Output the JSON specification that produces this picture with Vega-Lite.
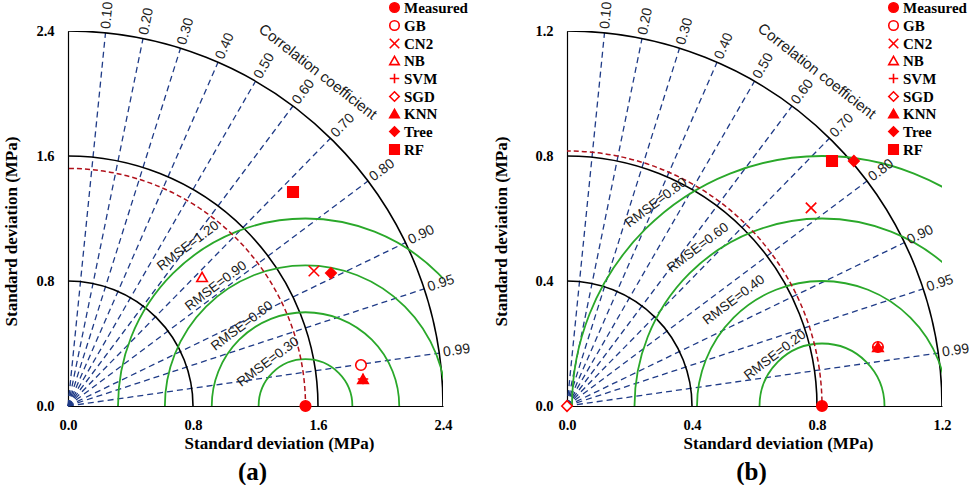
{
  "$schema": "https://vega.github.io/schema/vega-lite/v6.json",
  "padding": {"left": 2, "top": 0, "right": 0, "bottom": 0},
  "config": {"view": {"stroke": null}},
  "datasets": {
    "a_rays": [
      {"x": 0, "y": 0, "xe": 0.24, "ye": 2.388},
      {"x": 0, "y": 0, "xe": 0.48, "ye": 2.3515},
      {"x": 0, "y": 0, "xe": 0.72, "ye": 2.2895},
      {"x": 0, "y": 0, "xe": 0.96, "ye": 2.1996},
      {"x": 0, "y": 0, "xe": 1.2, "ye": 2.0785},
      {"x": 0, "y": 0, "xe": 1.44, "ye": 1.92},
      {"x": 0, "y": 0, "xe": 1.68, "ye": 1.7139},
      {"x": 0, "y": 0, "xe": 1.92, "ye": 1.44},
      {"x": 0, "y": 0, "xe": 2.16, "ye": 1.0461},
      {"x": 0, "y": 0, "xe": 2.28, "ye": 0.7494},
      {"x": 0, "y": 0, "xe": 2.376, "ye": 0.3386}
    ],
    "a_clab": [
      {"x": 0.24, "y": 2.388, "label": "0.10", "angle": 275.74},
      {"x": 0.48, "y": 2.3515, "label": "0.20", "angle": 281.54},
      {"x": 0.72, "y": 2.2895, "label": "0.30", "angle": 287.46},
      {"x": 0.96, "y": 2.1996, "label": "0.40", "angle": 293.58},
      {"x": 1.2, "y": 2.0785, "label": "0.50", "angle": 300},
      {"x": 1.44, "y": 1.92, "label": "0.60", "angle": 306.87},
      {"x": 1.68, "y": 1.7139, "label": "0.70", "angle": 314.43},
      {"x": 1.92, "y": 1.44, "label": "0.80", "angle": 323.13},
      {"x": 2.16, "y": 1.0461, "label": "0.90", "angle": 334.16},
      {"x": 2.28, "y": 0.7494, "label": "0.95", "angle": 341.81},
      {"x": 2.376, "y": 0.3386, "label": "0.99", "angle": 351.89}
    ],
    "a_std": [
      {"x": 0, "y": 0, "r": 0.8},
      {"x": 0, "y": 0, "r": 1.6},
      {"x": 0, "y": 0, "r": 2.4}
    ],
    "a_ref": [{"x": 0, "y": 0, "r": 1.52}],
    "a_rmse": [
      {"x": 1.52, "y": 0, "r": 0.3},
      {"x": 1.52, "y": 0, "r": 0.6},
      {"x": 1.52, "y": 0, "r": 0.9},
      {"x": 1.52, "y": 0, "r": 1.2}
    ],
    "a_rlab": [
      {"x": 0.768, "y": 1.024, "label": "RMSE=1.20"},
      {"x": 0.947, "y": 0.768, "label": "RMSE=0.90"},
      {"x": 1.114, "y": 0.512, "label": "RMSE=0.60"},
      {"x": 1.28, "y": 0.282, "label": "RMSE=0.30"}
    ],
    "a_title": [{"x": 1.6, "y": 2.14, "label": "Correlation coefficient"}],
    "a_pts": [
      {"model": "Measured", "x": 1.52, "y": 0},
      {"model": "GB", "x": 1.875, "y": 0.262},
      {"model": "CN2", "x": 1.574, "y": 0.864},
      {"model": "NB", "x": 0.858, "y": 0.826},
      {"model": "SVM", "x": 1.888, "y": 0.173},
      {"model": "KNN", "x": 1.888, "y": 0.173},
      {"model": "Tree", "x": 1.683, "y": 0.851},
      {"model": "RF", "x": 1.44, "y": 1.37}
    ],
    "b_rays": [
      {"x": 0, "y": 0, "xe": 0.12, "ye": 1.194},
      {"x": 0, "y": 0, "xe": 0.24, "ye": 1.1758},
      {"x": 0, "y": 0, "xe": 0.36, "ye": 1.1447},
      {"x": 0, "y": 0, "xe": 0.48, "ye": 1.0998},
      {"x": 0, "y": 0, "xe": 0.6, "ye": 1.0392},
      {"x": 0, "y": 0, "xe": 0.72, "ye": 0.96},
      {"x": 0, "y": 0, "xe": 0.84, "ye": 0.857},
      {"x": 0, "y": 0, "xe": 0.96, "ye": 0.72},
      {"x": 0, "y": 0, "xe": 1.08, "ye": 0.5231},
      {"x": 0, "y": 0, "xe": 1.14, "ye": 0.3747},
      {"x": 0, "y": 0, "xe": 1.188, "ye": 0.1693}
    ],
    "b_clab": [
      {"x": 0.12, "y": 1.194, "label": "0.10", "angle": 275.74},
      {"x": 0.24, "y": 1.1758, "label": "0.20", "angle": 281.54},
      {"x": 0.36, "y": 1.1447, "label": "0.30", "angle": 287.46},
      {"x": 0.48, "y": 1.0998, "label": "0.40", "angle": 293.58},
      {"x": 0.6, "y": 1.0392, "label": "0.50", "angle": 300},
      {"x": 0.72, "y": 0.96, "label": "0.60", "angle": 306.87},
      {"x": 0.84, "y": 0.857, "label": "0.70", "angle": 314.43},
      {"x": 0.96, "y": 0.72, "label": "0.80", "angle": 323.13},
      {"x": 1.08, "y": 0.5231, "label": "0.90", "angle": 334.16},
      {"x": 1.14, "y": 0.3747, "label": "0.95", "angle": 341.81},
      {"x": 1.188, "y": 0.1693, "label": "0.99", "angle": 351.89}
    ],
    "b_std": [
      {"x": 0, "y": 0, "r": 0.4},
      {"x": 0, "y": 0, "r": 0.8},
      {"x": 0, "y": 0, "r": 1.2}
    ],
    "b_ref": [{"x": 0, "y": 0, "r": 0.816}],
    "b_rmse": [
      {"x": 0.816, "y": 0, "r": 0.2},
      {"x": 0.816, "y": 0, "r": 0.4},
      {"x": 0.816, "y": 0, "r": 0.6},
      {"x": 0.816, "y": 0, "r": 0.8}
    ],
    "b_rlab": [
      {"x": 0.285, "y": 0.65, "label": "RMSE=0.80"},
      {"x": 0.419, "y": 0.506, "label": "RMSE=0.60"},
      {"x": 0.534, "y": 0.339, "label": "RMSE=0.40"},
      {"x": 0.666, "y": 0.163, "label": "RMSE=0.20"}
    ],
    "b_title": [{"x": 0.8, "y": 1.072, "label": "Correlation coefficient"}],
    "b_pts": [
      {"model": "Measured", "x": 0.816, "y": 0},
      {"model": "GB", "x": 0.995, "y": 0.189},
      {"model": "CN2", "x": 0.781, "y": 0.634},
      {"model": "SVM", "x": 0.995, "y": 0.189},
      {"model": "SGD", "x": 0, "y": 0},
      {"model": "KNN", "x": 0.995, "y": 0.189},
      {"model": "Tree", "x": 0.918, "y": 0.784},
      {"model": "RF", "x": 0.848, "y": 0.784}
    ]
  },
  "spacing": 20,
  "resolve": {
    "scale": {"size": "independent", "shape": "independent", "fill": "independent", "stroke": "independent"},
    "legend": {"shape": "independent", "fill": "independent", "stroke": "independent"}
  },
  "hconcat": [
    {
      "width": 375,
      "height": 375,
      "title": {"text": "(a)", "orient": "bottom", "anchor": "middle", "frame": "group", "font": "Liberation Serif", "fontWeight": "bold", "fontSize": 25, "color": "black", "offset": 8, "dx": -3},
      "encoding": {
        "x": {"field": "x", "type": "quantitative", "scale": {"domain": [0, 2.4], "nice": false},
          "axis": {"title": "Standard deviation (MPa)", "values": [0, 0.8, 1.6, 2.4], "format": ".1f", "grid": false, "ticks": false, "labelFlush": false, "labelOverlap": false, "domainColor": "black", "domainWidth": 1.2, "labelFont": "Liberation Serif", "labelFontWeight": "bold", "labelFontSize": 14.5, "labelColor": "black", "labelPadding": 12, "titleFont": "Liberation Serif", "titleFontWeight": "bold", "titleFontSize": 17, "titleColor": "black", "titlePadding": 4, "titleX": 211}},
        "y": {"field": "y", "type": "quantitative", "scale": {"domain": [0, 2.4], "nice": false},
          "axis": {"title": "Standard deviation (MPa)", "values": [0, 0.8, 1.6, 2.4], "format": ".1f", "grid": false, "ticks": false, "labelFlush": false, "labelOverlap": false, "domainColor": "black", "domainWidth": 1.2, "labelFont": "Liberation Serif", "labelFontWeight": "bold", "labelFontSize": 14.5, "labelColor": "black", "labelPadding": 14, "titleFont": "Liberation Serif", "titleFontWeight": "bold", "titleFontSize": 17, "titleColor": "black", "titlePadding": 15, "titleY": 200}}
      },
      "layer": [
        {"data": {"name": "a_rays"}, "mark": {"type": "rule", "stroke": "#1f3b87", "strokeDash": [6, 4], "strokeWidth": 1.3},
          "encoding": {"x2": {"field": "xe"}, "y2": {"field": "ye"}}},
        {"data": {"name": "a_std"}, "mark": {"type": "point", "shape": "circle", "filled": false, "stroke": "black", "strokeWidth": 1.6, "opacity": 1, "clip": true},
          "encoding": {"size": {"field": "r", "type": "quantitative", "scale": {"type": "pow", "exponent": 2, "domain": [0, 2.4], "range": [0, 562500]}, "legend": null}}},
        {"data": {"name": "a_rmse"}, "mark": {"type": "point", "shape": "circle", "filled": false, "stroke": "#2aa82a", "strokeWidth": 1.8, "opacity": 1, "clip": true},
          "encoding": {"size": {"field": "r", "type": "quantitative", "scale": {"type": "pow", "exponent": 2, "domain": [0, 2.4], "range": [0, 562500]}, "legend": null}}},
        {"data": {"name": "a_ref"}, "mark": {"type": "point", "shape": "circle", "filled": false, "stroke": "#b0101a", "strokeWidth": 1.5, "strokeDash": [5, 3], "opacity": 1, "clip": true},
          "encoding": {"size": {"field": "r", "type": "quantitative", "scale": {"type": "pow", "exponent": 2, "domain": [0, 2.4], "range": [0, 562500]}, "legend": null}}},
        {"data": {"name": "a_clab"}, "mark": {"type": "text", "align": "left", "baseline": "middle", "dx": 4, "font": "Liberation Sans", "fontSize": 14, "color": "#222"},
          "encoding": {"text": {"field": "label"}, "angle": {"field": "angle", "type": "quantitative", "scale": null}}},
        {"data": {"name": "a_rlab"}, "mark": {"type": "text", "align": "center", "baseline": "middle", "angle": 323, "font": "Liberation Sans", "fontSize": 13.5, "color": "#1a1a1a"},
          "encoding": {"text": {"field": "label"}}},
        {"data": {"name": "a_title"}, "mark": {"type": "text", "align": "center", "baseline": "middle", "angle": 38, "font": "Liberation Sans", "fontSize": 15, "color": "#1a1a1a"},
          "encoding": {"text": {"field": "label"}}},
        {"data": {"name": "a_pts"}, "mark": {"type": "point", "filled": true, "strokeWidth": 1.6, "size": 110, "opacity": 1},
          "encoding": {
            "shape": {"field": "model", "type": "nominal",
              "scale": {"domain": ["Measured", "GB", "CN2", "NB", "SVM", "SGD", "KNN", "Tree", "RF"], "range": ["circle", "circle", "M-1,-1L1,1M-1,1L1,-1", "triangle-up", "M-1,0L1,0M0,-1L0,1", "diamond", "triangle-up", "diamond", "square"]},
              "legend": {"title": null, "orient": "none", "legendX": 319, "legendY": -31, "padding": 0, "rowPadding": 1, "labelOffset": 2, "symbolSize": 90, "symbolStrokeWidth": 1.6, "labelFont": "Liberation Serif", "labelFontWeight": "bold", "labelFontSize": 15, "labelColor": "black"}},
            "fill": {"field": "model", "type": "nominal",
              "scale": {"domain": ["Measured", "GB", "CN2", "NB", "SVM", "SGD", "KNN", "Tree", "RF"], "range": ["red", "white", "white", "white", "white", "white", "red", "red", "red"]},
              "legend": {"title": null, "orient": "none", "legendX": 319, "legendY": -31, "padding": 0, "rowPadding": 1, "labelOffset": 2, "symbolSize": 90, "symbolStrokeWidth": 1.6, "labelFont": "Liberation Serif", "labelFontWeight": "bold", "labelFontSize": 15, "labelColor": "black"}},
            "stroke": {"field": "model", "type": "nominal",
              "scale": {"domain": ["Measured", "GB", "CN2", "NB", "SVM", "SGD", "KNN", "Tree", "RF"], "range": ["red", "red", "red", "red", "red", "red", "red", "red", "red"]},
              "legend": {"title": null, "orient": "none", "legendX": 319, "legendY": -31, "padding": 0, "rowPadding": 1, "labelOffset": 2, "symbolSize": 90, "symbolStrokeWidth": 1.6, "labelFont": "Liberation Serif", "labelFontWeight": "bold", "labelFontSize": 15, "labelColor": "black"}}
          }}
      ]
    },
    {
      "width": 375,
      "height": 375,
      "title": {"text": "(b)", "orient": "bottom", "anchor": "middle", "frame": "group", "font": "Liberation Serif", "fontWeight": "bold", "fontSize": 25, "color": "black", "offset": 8, "dx": -3},
      "encoding": {
        "x": {"field": "x", "type": "quantitative", "scale": {"domain": [0, 1.2], "nice": false},
          "axis": {"title": "Standard deviation (MPa)", "values": [0, 0.4, 0.8, 1.2], "format": ".1f", "grid": false, "ticks": false, "labelFlush": false, "labelOverlap": false, "domainColor": "black", "domainWidth": 1.2, "labelFont": "Liberation Serif", "labelFontWeight": "bold", "labelFontSize": 14.5, "labelColor": "black", "labelPadding": 12, "titleFont": "Liberation Serif", "titleFontWeight": "bold", "titleFontSize": 17, "titleColor": "black", "titlePadding": 4, "titleX": 211}},
        "y": {"field": "y", "type": "quantitative", "scale": {"domain": [0, 1.2], "nice": false},
          "axis": {"title": "Standard deviation (MPa)", "values": [0, 0.4, 0.8, 1.2], "format": ".1f", "grid": false, "ticks": false, "labelFlush": false, "labelOverlap": false, "domainColor": "black", "domainWidth": 1.2, "labelFont": "Liberation Serif", "labelFontWeight": "bold", "labelFontSize": 14.5, "labelColor": "black", "labelPadding": 14, "titleFont": "Liberation Serif", "titleFontWeight": "bold", "titleFontSize": 17, "titleColor": "black", "titlePadding": 24, "titleY": 200}}
      },
      "layer": [
        {"data": {"name": "b_rays"}, "mark": {"type": "rule", "stroke": "#1f3b87", "strokeDash": [6, 4], "strokeWidth": 1.3},
          "encoding": {"x2": {"field": "xe"}, "y2": {"field": "ye"}}},
        {"data": {"name": "b_std"}, "mark": {"type": "point", "shape": "circle", "filled": false, "stroke": "black", "strokeWidth": 1.6, "opacity": 1, "clip": true},
          "encoding": {"size": {"field": "r", "type": "quantitative", "scale": {"type": "pow", "exponent": 2, "domain": [0, 1.2], "range": [0, 562500]}, "legend": null}}},
        {"data": {"name": "b_rmse"}, "mark": {"type": "point", "shape": "circle", "filled": false, "stroke": "#2aa82a", "strokeWidth": 1.8, "opacity": 1, "clip": true},
          "encoding": {"size": {"field": "r", "type": "quantitative", "scale": {"type": "pow", "exponent": 2, "domain": [0, 1.2], "range": [0, 562500]}, "legend": null}}},
        {"data": {"name": "b_ref"}, "mark": {"type": "point", "shape": "circle", "filled": false, "stroke": "#b0101a", "strokeWidth": 1.5, "strokeDash": [5, 3], "opacity": 1, "clip": true},
          "encoding": {"size": {"field": "r", "type": "quantitative", "scale": {"type": "pow", "exponent": 2, "domain": [0, 1.2], "range": [0, 562500]}, "legend": null}}},
        {"data": {"name": "b_clab"}, "mark": {"type": "text", "align": "left", "baseline": "middle", "dx": 4, "font": "Liberation Sans", "fontSize": 14, "color": "#222"},
          "encoding": {"text": {"field": "label"}, "angle": {"field": "angle", "type": "quantitative", "scale": null}}},
        {"data": {"name": "b_rlab"}, "mark": {"type": "text", "align": "center", "baseline": "middle", "angle": 323, "font": "Liberation Sans", "fontSize": 13.5, "color": "#1a1a1a"},
          "encoding": {"text": {"field": "label"}}},
        {"data": {"name": "b_title"}, "mark": {"type": "text", "align": "center", "baseline": "middle", "angle": 38, "font": "Liberation Sans", "fontSize": 15, "color": "#1a1a1a"},
          "encoding": {"text": {"field": "label"}}},
        {"data": {"name": "b_pts"}, "mark": {"type": "point", "filled": true, "strokeWidth": 1.6, "size": 110, "opacity": 1},
          "encoding": {
            "shape": {"field": "model", "type": "nominal",
              "scale": {"domain": ["Measured", "GB", "CN2", "NB", "SVM", "SGD", "KNN", "Tree", "RF"], "range": ["circle", "circle", "M-1,-1L1,1M-1,1L1,-1", "triangle-up", "M-1,0L1,0M0,-1L0,1", "diamond", "triangle-up", "diamond", "square"]},
              "legend": {"title": null, "orient": "none", "legendX": 319, "legendY": -31, "padding": 0, "rowPadding": 1, "labelOffset": 2, "symbolSize": 90, "symbolStrokeWidth": 1.6, "labelFont": "Liberation Serif", "labelFontWeight": "bold", "labelFontSize": 15, "labelColor": "black"}},
            "fill": {"field": "model", "type": "nominal",
              "scale": {"domain": ["Measured", "GB", "CN2", "NB", "SVM", "SGD", "KNN", "Tree", "RF"], "range": ["red", "white", "white", "white", "white", "white", "red", "red", "red"]},
              "legend": {"title": null, "orient": "none", "legendX": 319, "legendY": -31, "padding": 0, "rowPadding": 1, "labelOffset": 2, "symbolSize": 90, "symbolStrokeWidth": 1.6, "labelFont": "Liberation Serif", "labelFontWeight": "bold", "labelFontSize": 15, "labelColor": "black"}},
            "stroke": {"field": "model", "type": "nominal",
              "scale": {"domain": ["Measured", "GB", "CN2", "NB", "SVM", "SGD", "KNN", "Tree", "RF"], "range": ["red", "red", "red", "red", "red", "red", "red", "red", "red"]},
              "legend": {"title": null, "orient": "none", "legendX": 319, "legendY": -31, "padding": 0, "rowPadding": 1, "labelOffset": 2, "symbolSize": 90, "symbolStrokeWidth": 1.6, "labelFont": "Liberation Serif", "labelFontWeight": "bold", "labelFontSize": 15, "labelColor": "black"}}
          }}
      ]
    }
  ]
}
